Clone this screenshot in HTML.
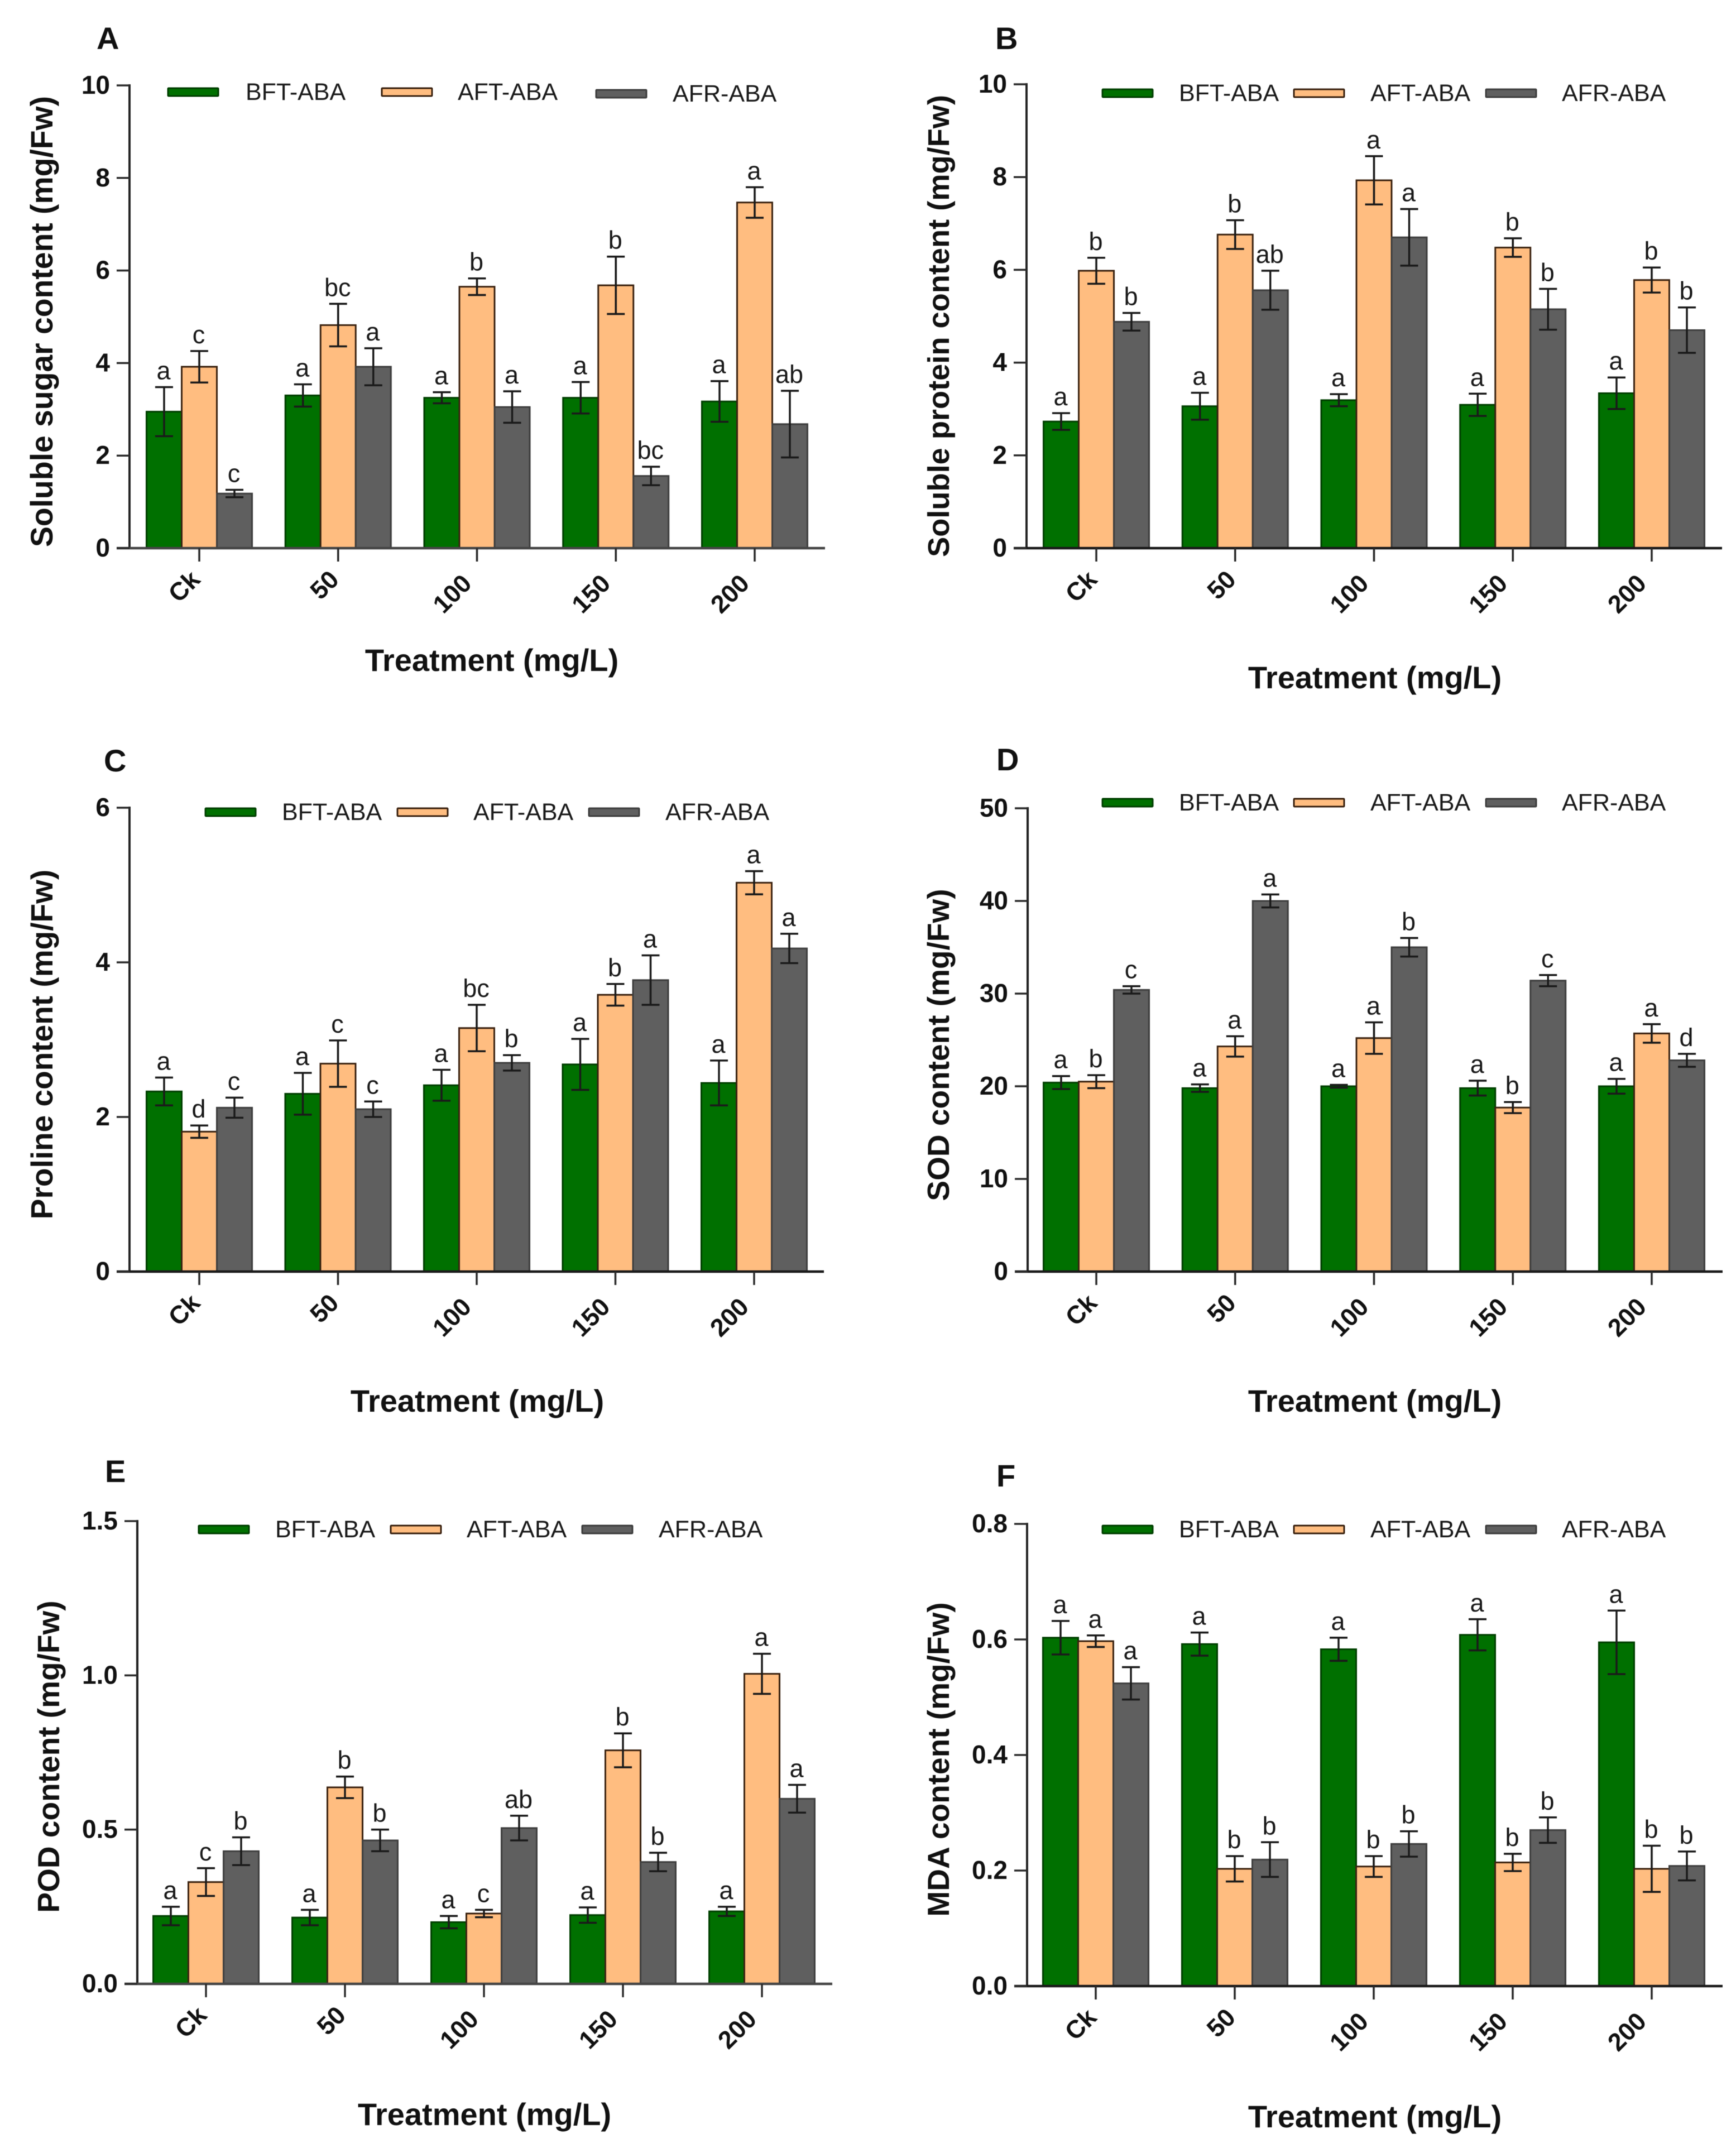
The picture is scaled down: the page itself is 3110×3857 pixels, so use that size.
<!DOCTYPE html>
<html lang="en">
<head>
<meta charset="utf-8">
<title>Physiological responses to ABA treatment</title>
<style>
html,body{margin:0;padding:0;background:#fff;}
body{width:3110px;height:3857px;overflow:hidden;}
svg{display:block;filter:blur(0.9px);}
text{font-family:"Liberation Sans",sans-serif;}
</style>
</head>
<body>
<svg id="figure" xmlns="http://www.w3.org/2000/svg" width="3110" height="3857" viewBox="0 0 3110 3857"></svg>
<script>
const categories = ['Ck', '50', '100', '150', '200'];
const seriesNames = ['BFT-ABA', 'AFT-ABA', 'AFR-ABA'];

const aTicks = ['0', '2', '4', '6', '8', '10'];
const aBft = [2.95, 3.30, 3.25, 3.25, 3.17];
const aAft = [3.92, 4.82, 5.65, 5.68, 7.47];
const aAfr = [1.18, 3.92, 3.05, 1.56, 2.68];
const aBftErr = [0.53, 0.24, 0.12, 0.34, 0.44];
const aAftErr = [0.34, 0.46, 0.18, 0.62, 0.33];
const aAfrErr = [0.08, 0.40, 0.34, 0.20, 0.72];
const aBftSig = ['a', 'a', 'a', 'a', 'a'];
const aAftSig = ['c', 'bc', 'b', 'b', 'a'];
const aAfrSig = ['c', 'a', 'a', 'bc', 'ab'];

const bTicks = ['0', '2', '4', '6', '8', '10'];
const bBft = [2.73, 3.06, 3.19, 3.09, 3.34];
const bAft = [5.98, 6.76, 7.93, 6.48, 5.78];
const bAfr = [4.88, 5.56, 6.70, 5.15, 4.70];
const bBftErr = [0.18, 0.29, 0.13, 0.24, 0.34];
const bAftErr = [0.28, 0.31, 0.52, 0.20, 0.27];
const bAfrErr = [0.19, 0.42, 0.61, 0.44, 0.49];
const bBftSig = ['a', 'a', 'a', 'a', 'a'];
const bAftSig = ['b', 'b', 'a', 'b', 'b'];
const bAfrSig = ['b', 'ab', 'a', 'b', 'b'];

const cTicks = ['0', '2', '4', '6'];
const cBft = [2.33, 2.30, 2.41, 2.68, 2.44];
const cAft = [1.81, 2.69, 3.15, 3.58, 5.03];
const cAfr = [2.12, 2.10, 2.70, 3.77, 4.18];
const cBftErr = [0.18, 0.27, 0.20, 0.33, 0.29];
const cAftErr = [0.08, 0.30, 0.30, 0.14, 0.15];
const cAfrErr = [0.13, 0.10, 0.10, 0.32, 0.19];
const cBftSig = ['a', 'a', 'a', 'a', 'a'];
const cAftSig = ['d', 'c', 'bc', 'b', 'a'];
const cAfrSig = ['c', 'c', 'b', 'a', 'a'];

const dTicks = ['0', '10', '20', '30', '40', '50'];
const dBft = [20.4, 19.8, 20.0, 19.8, 20.0];
const dAft = [20.5, 24.3, 25.2, 17.7, 25.7];
const dAfr = [30.4, 40.0, 35.0, 31.4, 22.8];
const dBftErr = [0.7, 0.4, 0.15, 0.8, 0.8];
const dAftErr = [0.7, 1.1, 1.7, 0.6, 1.0];
const dAfrErr = [0.4, 0.7, 1.0, 0.6, 0.7];
const dBftSig = ['a', 'a', 'a', 'a', 'a'];
const dAftSig = ['b', 'a', 'a', 'b', 'a'];
const dAfrSig = ['c', 'a', 'b', 'c', 'd'];

const eTicks = ['0.0', '0.5', '1.0', '1.5'];
const eBft = [0.220, 0.215, 0.200, 0.223, 0.235];
const eAft = [0.330, 0.637, 0.228, 0.757, 1.005];
const eAfr = [0.430, 0.465, 0.505, 0.395, 0.600];
const eBftErr = [0.030, 0.025, 0.020, 0.025, 0.015];
const eAftErr = [0.045, 0.035, 0.012, 0.055, 0.065];
const eAfrErr = [0.045, 0.035, 0.040, 0.030, 0.045];
const eBftSig = ['a', 'a', 'a', 'a', 'a'];
const eAftSig = ['c', 'b', 'c', 'b', 'a'];
const eAfrSig = ['b', 'b', 'ab', 'b', 'a'];

const fTicks = ['0.0', '0.2', '0.4', '0.6', '0.8'];
const fBft = [0.603, 0.592, 0.583, 0.608, 0.595];
const fAft = [0.597, 0.203, 0.207, 0.214, 0.203];
const fAfr = [0.524, 0.219, 0.246, 0.270, 0.208];
const fBftErr = [0.029, 0.020, 0.020, 0.027, 0.055];
const fAftErr = [0.010, 0.022, 0.018, 0.015, 0.040];
const fAfrErr = [0.028, 0.030, 0.022, 0.022, 0.025];
const fBftSig = ['a', 'a', 'a', 'a', 'a'];
const fAftSig = ['a', 'b', 'b', 'b', 'b'];
const fAfrSig = ['a', 'b', 'b', 'b', 'b'];

const SVG_NS = 'http://www.w3.org/2000/svg';
const root = document.getElementById('figure');
const barColors = ['#007000', '#FFBD80', '#5F5F5F'];
const barEdges = ['#003f00', '#3a2210', '#3e3e3e'];
const seriesSlugs = ['bft', 'aft', 'afr'];
const BAR_W = 63;

function mk(tag, attrs, parent, txt) {
  const el = document.createElementNS(SVG_NS, tag);
  for (const k in attrs) el.setAttribute(k, attrs[k]);
  if (txt !== undefined) el.textContent = txt;
  parent.appendChild(el);
  return el;
}

function drawPanel(p) {
  const g = mk('g', {}, root);
  
  

  const tickNums = p.ticks.map(parseFloat);
  const yMax = Math.max.apply(null, tickNums);
  const yScale = v => p.y0 - (v / yMax) * (p.y0 - p.yTop);
  const xCenter = (c, s) => p.firstTick + c * p.step + (s - 1) * BAR_W;

  const letter = mk('text', {x: p.letterX, y: p.letterY, 'font-size': 56, 'font-weight': 'bold', fill: '#111'}, g, p.id);
  
  

  // bars and error bars
  p.values.forEach((vals, s) => {
    const sg = mk('g', {}, g);
    
    
    vals.forEach((v, c) => {
      const cx = xCenter(c, s);
      const top = yScale(v);
      const bar = mk('rect', {x: cx - BAR_W / 2, y: top, width: BAR_W, height: p.y0 - top, fill: barColors[s], stroke: barEdges[s], 'stroke-width': 3}, sg);
      
      
    });
  });
  p.values.forEach((vals, s) => {
    vals.forEach((v, c) => {
      const cx = xCenter(c, s);
      const e = p.errors[s][c];
      const hi = yScale(v + e);
      const lo = yScale(v - e);
      const eg = mk('g', {stroke: '#1a1a1a', 'stroke-width': 3.5, fill: 'none'}, g);
      
      
      mk('line', {x1: cx, x2: cx, y1: hi, y2: lo}, eg);
      mk('line', {x1: cx - 16, x2: cx + 16, y1: hi, y2: hi}, eg);
      mk('line', {x1: cx - 16, x2: cx + 16, y1: lo, y2: lo}, eg);
      const sig = mk('text', {x: cx - 1, y: hi - 14, 'font-size': 45, 'text-anchor': 'middle', fill: '#1a1a1a'}, g, p.letters[s][c]);
      
      
    });
  });

  // axes
  const yAxis = mk('line', {x1: p.axisX, x2: p.axisX, y1: p.yTop - 2, y2: p.y0 + 2, stroke: '#222', 'stroke-width': 4}, g);
  
  
  const xAxis = mk('line', {x1: p.axisX - 23, x2: p.right, y1: p.y0, y2: p.y0, stroke: p.xAxisColor, 'stroke-width': 4.5}, g);
  
  

  p.ticks.forEach((label, i) => {
    const y = yScale(tickNums[i]);
    const t = mk('line', {x1: p.axisX - 23, x2: p.axisX, y1: y, y2: y, stroke: '#2b2b2b', 'stroke-width': 3.5}, g);
    
    
    const l = mk('text', {x: p.axisX - 35, y: y + 15, 'font-size': 46, 'font-weight': 'bold', 'text-anchor': 'end', fill: '#111'}, g, label);
    
    
  });

  categories.forEach((cat, c) => {
    const x = xCenter(c, 1);
    const t = mk('line', {x1: x, x2: x, y1: p.y0, y2: p.y0 + 24, stroke: '#2b2b2b', 'stroke-width': 3.5}, g);
    
    
    const dx = cat.length > 2 ? -7 : 4;
    const dy = cat.length > 2 ? 66 : 59;
    const l = mk('text', {transform: 'translate(' + (x + dx) + ',' + (p.y0 + dy) + ') rotate(-45)', 'font-size': 45, 'font-weight': 'bold', 'text-anchor': 'end', fill: '#111'}, g, cat);
    
    
  });

  const xt = mk('text', {x: p.xTitleX, y: p.xTitleY, 'font-size': 56, 'font-weight': 'bold', 'text-anchor': 'middle', fill: '#111'}, g, 'Treatment (mg/L)');
  
  
  const yt = mk('text', {transform: 'translate(' + p.yTitleX + ',' + p.yTitleY + ') rotate(-90)', 'font-size': p.yTitleSize, 'font-weight': 'bold', 'text-anchor': 'middle', fill: '#111'}, g, p.yTitle);
  
  

  // legend
  const lg = mk('g', {}, g);
  
  
  seriesNames.forEach((name, s) => {
    const cy = p.legendY[s];
    const sw = mk('rect', {x: p.legendSwatch[s], y: cy - 7, width: 90, height: 14, fill: barColors[s], stroke: barEdges[s], 'stroke-width': 3, rx: 1}, lg);
    
    
    const tx = mk('text', {x: p.legendText[s], y: cy + 14, 'font-size': 43, fill: '#1a1a1a'}, lg, name);
    
    
  });
}

drawPanel({id: 'A', ticks: aTicks, values: [aBft, aAft, aAfr], errors: [aBftErr, aAftErr, aAfrErr], letters: [aBftSig, aAftSig, aAfrSig],
  yTitle: 'Soluble sugar content (mg/Fw)', yTitleSize: 55.3, xAxisColor: '#454545', axisX: 232, firstTick: 357, step: 248.75, right: 1478, y0: 982, yTop: 153,
  letterX: 173, letterY: 88, xTitleX: 881, xTitleY: 1202, yTitleX: 94, yTitleY: 576,
  legendSwatch: [301, 684, 1068], legendText: [440, 820, 1205], legendY: [165, 165, 168]});

drawPanel({id: 'B', ticks: bTicks, values: [bBft, bAft, bAfr], errors: [bBftErr, bAftErr, bAfrErr], letters: [bBftSig, bAftSig, bAfrSig],
  yTitle: 'Soluble protein content (mg/Fw)', yTitleSize: 54.2, xAxisColor: '#1a1a1a', axisX: 1839, firstTick: 1964, step: 248.75, right: 3085, y0: 982, yTop: 151,
  letterX: 1783, letterY: 88, xTitleX: 2463, xTitleY: 1233, yTitleX: 1700, yTitleY: 584,
  legendSwatch: [1975, 2318, 2662], legendText: [2112, 2455, 2798], legendY: [167, 167, 167]});

drawPanel({id: 'C', ticks: cTicks, values: [cBft, cAft, cAfr], errors: [cBftErr, cAftErr, cAfrErr], letters: [cBftSig, cAftSig, cAfrSig],
  yTitle: 'Proline content (mg/Fw)', yTitleSize: 55, xAxisColor: '#1a1a1a', axisX: 232, firstTick: 357, step: 248.5, right: 1476, y0: 2278, yTop: 1447,
  letterX: 186, letterY: 1382, xTitleX: 855, xTitleY: 2529, yTitleX: 94, yTitleY: 1871,
  legendSwatch: [368, 712, 1055], legendText: [505, 848, 1192], legendY: [1455, 1455, 1455]});

drawPanel({id: 'D', ticks: dTicks, values: [dBft, dAft, dAfr], errors: [dBftErr, dAftErr, dAfrErr], letters: [dBftSig, dAftSig, dAfrSig],
  yTitle: 'SOD content (mg/Fw)', yTitleSize: 55, xAxisColor: '#1a1a1a', axisX: 1841, firstTick: 1964, step: 248.75, right: 3086, y0: 2278, yTop: 1448,
  letterX: 1785, letterY: 1380, xTitleX: 2463, xTitleY: 2529, yTitleX: 1700, yTitleY: 1872,
  legendSwatch: [1975, 2318, 2662], legendText: [2112, 2455, 2798], legendY: [1438, 1438, 1438]});

drawPanel({id: 'E', ticks: eTicks, values: [eBft, eAft, eAfr], errors: [eBftErr, eAftErr, eAfrErr], letters: [eBftSig, eAftSig, eAfrSig],
  yTitle: 'POD content (mg/Fw)', yTitleSize: 55, xAxisColor: '#454545', axisX: 246, firstTick: 369, step: 249, right: 1491, y0: 3554, yTop: 2725,
  letterX: 188, letterY: 2655, xTitleX: 868, xTitleY: 3807, yTitleX: 106, yTitleY: 3147,
  legendSwatch: [356, 700, 1043], legendText: [493, 836, 1180], legendY: [2740, 2740, 2740]});

drawPanel({id: 'F', ticks: fTicks, values: [fBft, fAft, fAfr], errors: [fBftErr, fAftErr, fAfrErr], letters: [fBftSig, fAftSig, fAfrSig],
  yTitle: 'MDA content (mg/Fw)', yTitleSize: 55, xAxisColor: '#1a1a1a', axisX: 1840, firstTick: 1963, step: 249, right: 3086, y0: 3558, yTop: 2730,
  letterX: 1785, letterY: 2663, xTitleX: 2463, xTitleY: 3811, yTitleX: 1700, yTitleY: 3152,
  legendSwatch: [1975, 2318, 2662], legendText: [2112, 2455, 2798], legendY: [2740, 2740, 2740]});
</script>
</body>
</html>
